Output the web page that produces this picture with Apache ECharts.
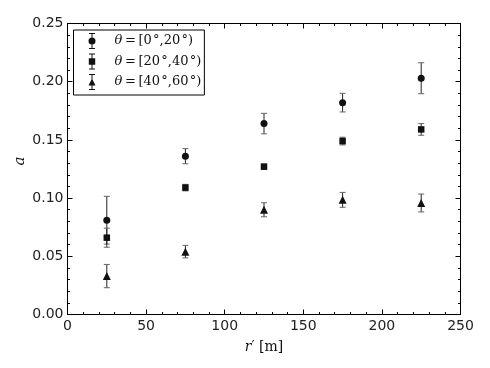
<!DOCTYPE html>
<html>
<head>
<meta charset="utf-8">
<script src="https://cdn.jsdelivr.net/npm/echarts@6/dist/echarts.min.js"></script>
<style>
  html, body { margin: 0; padding: 0; background: #fff; }
  #chart { width: 490px; height: 368px; }
</style>
</head>
<body>
<div id="chart"></div>
<script>
// distance bins r' [m]
const radii = [25, 75, 125, 175, 225];

// a values and errors per theta bin
const aLow = [0.081, 0.136, 0.164, 0.182, 0.203];
const errLow = [0.0205, 0.0065, 0.0088, 0.008, 0.0133];

const aMid = [0.066, 0.109, 0.127, 0.149, 0.159];
const errMid = [0.0082, 0.0028, 0.0022, 0.0033, 0.005];

const aHigh = [0.033, 0.054, 0.090, 0.0985, 0.0958];
const errHigh = [0.010, 0.0054, 0.006, 0.0064, 0.0077];

const names = ['θ=[0°,20°)', 'θ=[20°,40°)', 'θ=[40°,60°)'];
const xTicks = [0, 50, 100, 150, 200, 250];
const yTicks = [0, 0.05, 0.10, 0.15, 0.20, 0.25];

const ink = '#111';
const thin = '\u2009';
const hair = '\u200A';

// legend icons: error bar + marker
const barPath = 'M3 0 L4 0 L4 16 L3 16 Z M0.5 0 L6.5 0 L6.5 1 L0.5 1 Z M0.5 15 L6.5 15 L6.5 16 L0.5 16 Z ';
const icons = [
  'path://' + barPath + 'M0 8 A3.5 3.5 0 1 1 7 8 A3.5 3.5 0 1 1 0 8 Z',
  'path://' + barPath + 'M0.3 4.8 L6.7 4.8 L6.7 11.2 L0.3 11.2 Z',
  'path://' + barPath + 'M3.5 4.5 L7 11.5 L0 11.5 Z'
];
const symbols = ['circle', 'rect', 'triangle'];
const symbolSizes = [7, 6.5, 8];

const chart = echarts.init(document.getElementById('chart'));

function points(vals) {
  return radii.map((r, i) => [r, vals[i]]);
}
function bars(vals, errs) {
  return radii.map((r, i) => [r, vals[i], errs[i]]);
}

function renderErr(params, api) {
  const x = api.value(0), y = api.value(1), e = api.value(2);
  const top = api.coord([x, y + e]);
  const bot = api.coord([x, y - e]);
  const style = { stroke: '#222', lineWidth: 1 };
  return {
    type: 'group',
    children: [
      { type: 'line', shape: { x1: top[0], y1: top[1], x2: bot[0], y2: bot[1] }, style },
      { type: 'line', shape: { x1: top[0] - 3, y1: top[1], x2: top[0] + 3, y2: top[1] }, style: { stroke: '#666', lineWidth: 1 } },
      { type: 'line', shape: { x1: bot[0] - 3, y1: bot[1], x2: bot[0] + 3, y2: bot[1] }, style: { stroke: '#666', lineWidth: 1 } }
    ]
  };
}

const sets = [[aLow, errLow], [aMid, errMid], [aHigh, errHigh]];
const series = [];
sets.forEach(([vals, errs], k) => {
  series.push({
    type: 'custom',
    renderItem: renderErr,
    data: bars(vals, errs),
    encode: { x: 0, y: 1 },
    z: 2,
    silent: true
  });
});
sets.forEach(([vals], k) => {
  series.push({
    name: names[k],
    type: 'scatter',
    symbol: symbols[k],
    symbolSize: symbolSizes[k],
    data: points(vals),
    itemStyle: { color: ink, opacity: 1 },
    z: 3
  });
});

const tickStyle = { color: '#000', width: 1 };
const axisFont = { fontFamily: 'DejaVu Sans', fontSize: 14, color: '#222' };

function xAxisDef(pos) {
  return {
    type: 'value', position: pos, min: 0, max: 250, interval: 50,
    axisLine: { show: true, onZero: false, lineStyle: { color: '#000', width: 1 } },
    axisTick: { show: true, inside: true, length: 5, lineStyle: tickStyle },
    minorTick: { show: true, splitNumber: 5, length: 2.5, lineStyle: tickStyle },
    splitLine: { show: false }, minorSplitLine: { show: false },
    axisLabel: pos === 'bottom' ? Object.assign({ margin: 5 }, axisFont) : { show: false }
  };
}
function yAxisDef(pos) {
  return {
    type: 'value', position: pos, min: 0, max: 0.25, interval: 0.05,
    axisLine: { show: true, onZero: false, lineStyle: { color: '#000', width: 1 } },
    axisTick: { show: true, inside: true, length: 5, lineStyle: tickStyle },
    minorTick: { show: true, splitNumber: 5, length: 2.5, lineStyle: tickStyle },
    splitLine: { show: false }, minorSplitLine: { show: false },
    axisLabel: pos === 'left'
      ? Object.assign({ margin: 4, formatter: v => v.toFixed(2) }, axisFont)
      : { show: false }
  };
}

const xa = [xAxisDef('bottom'), xAxisDef('top')];
xa[0].name = "{i|r}{r|′ [m]}";
xa[0].nameLocation = 'middle';
xa[0].nameGap = 26;
xa[0].nameTextStyle = {
  rich: {
    i: { fontFamily: 'DejaVu Serif', fontStyle: 'italic', fontSize: 14, color: '#111' },
    r: { fontFamily: 'DejaVu Serif', fontSize: 14, color: '#111' }
  }
};
const ya = [yAxisDef('left'), yAxisDef('right')];
ya[0].name = 'a';
ya[0].nameLocation = 'middle';
ya[0].nameGap = 40;
ya[0].nameMoveOverlap = false;
ya[0].nameTextStyle = { fontFamily: 'DejaVu Serif', fontStyle: 'italic', fontSize: 15, color: '#111', padding: [0, 0, 0, 16] };

chart.setOption({
  animation: false,
  backgroundColor: '#fff',
  grid: { left: 67.5, right: 29.5, top: 23.5, bottom: 53.5 },
  xAxis: xa,
  yAxis: ya,
  legend: {
    orient: 'vertical',
    left: 73.5, top: 30,
    padding: [3, 3, 5, 15],
    itemWidth: 7, itemHeight: 16, itemGap: 4.5,
    borderColor: '#000', borderWidth: 1, borderRadius: 0,
    backgroundColor: '#fff',
    data: names.map((n, k) => ({ name: n, icon: icons[k], itemStyle: { color: ink } })),
    formatter: n => '{i|θ}{r|' + n.slice(1)
      .replace('=', thin + '=' + thin)
      .replace(/°/g, hair + '°') + '}',
    textStyle: {
      rich: {
        i: { fontFamily: 'DejaVu Serif', fontStyle: 'italic', fontSize: 13, color: '#111', padding: [0, 0, 0, 14] },
        r: { fontFamily: 'DejaVu Serif', fontSize: 13, color: '#111' }
      }
    }
  },
  series
});
</script>
</body>
</html>
